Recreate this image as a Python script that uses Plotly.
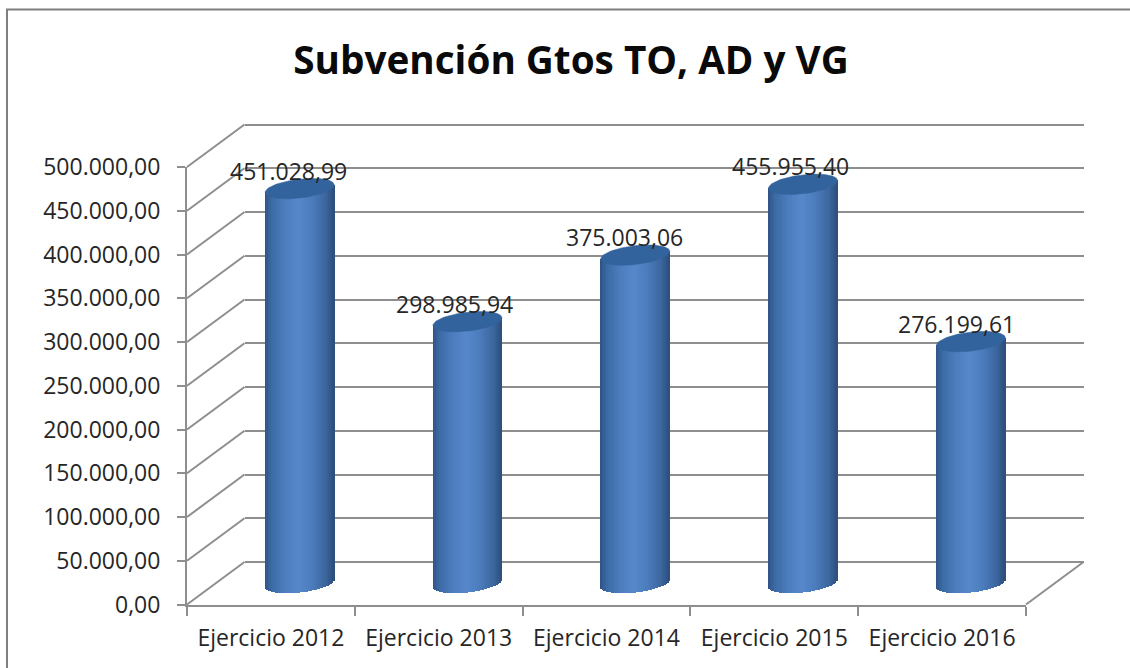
import numpy as np
import plotly.graph_objects as go

# --- data ---
CATEGORIES = ["Ejercicio 2012", "Ejercicio 2013", "Ejercicio 2014", "Ejercicio 2015", "Ejercicio 2016"]
VALUES = [451028.99, 298985.94, 375003.06, 455955.40, 276199.61]
VALUE_LABELS = ["451.028,99", "298.985,94", "375.003,06", "455.955,40", "276.199,61"]
TICK_VALUES = [0, 50000, 100000, 150000, 200000, 250000, 300000, 350000, 400000, 450000, 500000]
TICK_LABELS = ["0,00", "50.000,00", "100.000,00", "150.000,00", "200.000,00", "250.000,00",
               "300.000,00", "350.000,00", "400.000,00", "450.000,00", "500.000,00"]
TITLE = "Subvención Gtos TO, AD y VG"

# --- layout constants (pixels) ---
W, H = 1130, 668
FX0, FX1, FY0, FY1 = 187.0, 1026.0, 604.5, 167.0     # front plane
DX, DY = 57.5, -42.5                                  # depth of the box
GRID = "#8e8e8e"
TEXT = "#262626"
FONT = "Open Sans"
LABEL_DX = [-11.5, -13, -11, -13, -14.5]
RX, RY, TILT = 34.5, 9.5, 0.11
STRIPS = 46
PAD = 20000  # value padding of the hidden axes so that edge grid lines and arcs survive

n = len(CATEGORIES)
x_per_px = n / (FX1 - FX0)
v_per_px = 500000 / (FY0 - FY1)


def px(x):
    return x / W


def py(y):
    return 1 - y / H


def dom_x(shift):
    return [px(FX0 + shift), px(FX1 + shift)]


def dom_y(shift, pad=0.0):
    return [py(FY0 + shift + pad / v_per_px), py(FY1 + shift - pad / v_per_px)]


def lerp_color(t):
    stops = [(0.0, (46, 84, 134)), (0.10, (60, 106, 164)), (0.28, (76, 124, 188)),
             (0.48, (86, 136, 203)), (0.68, (76, 124, 188)), (0.88, (60, 102, 158)), (1.0, (44, 78, 124))]
    for (a, ca), (b, cb) in zip(stops, stops[1:]):
        if t <= b:
            f = (t - a) / (b - a)
            return "rgb(%d,%d,%d)" % tuple(round(p + (q - p) * f) for p, q in zip(ca, cb))
    return "rgb(44,78,124)"


# strips forming the shaded cylinder bodies
ts = (np.arange(STRIPS) + 0.5) / STRIPS
off_px = (ts * 2 - 1) * RX
strip_w = 2 * RX / STRIPS * 1.15 * x_per_px
bar_x, bar_y, bar_base, bar_col = [], [], [], []
for i, v in enumerate(VALUES):
    for t, o in zip(ts, off_px):
        arc = RY * np.sqrt(max(0.0, 1 - (o / RX) ** 2))
        low = (TILT * o - arc) * v_per_px
        top = v + TILT * o * v_per_px
        bar_x.append(i + o * x_per_px)
        bar_base.append(low)
        bar_y.append(top - low)
        bar_col.append(lerp_color(float(t)))

fig = go.Figure()

# back wall: subplot x/y carries the horizontal grid
fig.add_trace(go.Scatter(x=[0], y=[0], xaxis="x", yaxis="y", mode="markers",
                         marker=dict(opacity=0), hoverinfo="skip", showlegend=False))
# front plane: subplot x2/y2 carries the visible axes and labels
fig.add_trace(go.Scatter(x=list(range(n)), y=[0] * n, xaxis="x2", yaxis="y2", mode="markers",
                         marker=dict(opacity=0), hoverinfo="skip", showlegend=False))
# middle plane: subplot x3/y3 carries the cylinders
fig.add_trace(go.Bar(x=bar_x, y=bar_y, base=bar_base, width=strip_w, xaxis="x3", yaxis="y3",
                     marker=dict(color=bar_col, line=dict(width=0)), cliponaxis=False,
                     hoverinfo="skip", showlegend=False))
th = np.linspace(0, 2 * np.pi, 90)
for i, v in enumerate(VALUES):
    ox = RX * np.cos(th)
    oy = RY * np.sin(th) + TILT * ox
    fig.add_trace(go.Scatter(x=i + ox * x_per_px, y=v + oy * v_per_px, xaxis="x3", yaxis="y3",
                             mode="lines", fill="toself", fillcolor="#33639c",
                             line=dict(color="#33639c", width=0.5), cliponaxis=False,
                             hoverinfo="skip", showlegend=False))

# depth lines of the box
shapes = []
for tv in TICK_VALUES:
    y_front = FY0 - tv / v_per_px
    shapes.append(dict(type="line", xref="paper", yref="paper", layer="below",
                       x0=px(FX0), y0=py(y_front), x1=px(FX0 + DX), y1=py(y_front + DY),
                       line=dict(color=GRID, width=2)))
shapes.append(dict(type="line", xref="paper", yref="paper", layer="below",
                   x0=px(FX1), y0=py(FY0), x1=px(FX1 + DX), y1=py(FY0 + DY),
                   line=dict(color=GRID, width=2)))
# picture frame
shapes.append(dict(type="line", xref="paper", yref="paper", layer="below",
                   x0=px(7), y0=py(9.5), x1=px(7), y1=0, line=dict(color="#7f7f7f", width=2)))
shapes.append(dict(type="line", xref="paper", yref="paper", layer="below",
                   x0=px(6), y0=py(9.5), x1=1, y1=py(9.5), line=dict(color="#7f7f7f", width=2)))

annotations = [dict(x=i, y=v, xref="x3", yref="y3", text=lab, showarrow=False,
                    xshift=LABEL_DX[i], yshift=18, xanchor="center", yanchor="middle",
                    font=dict(family=FONT, size=23, color=TEXT))
               for i, (v, lab) in enumerate(zip(VALUES, VALUE_LABELS))]

fig.update_layout(
    template="none",
    width=W, height=H, margin=dict(l=0, r=0, t=0, b=0, pad=0, autoexpand=False),
    paper_bgcolor="white", plot_bgcolor="rgba(0,0,0,0)", showlegend=False,
    barmode="overlay", bargap=0, shapes=shapes, annotations=annotations,
    title=dict(text=TITLE, x=571 / W, xanchor="center", y=py(60), yanchor="middle",
               font=dict(family=FONT, size=38.7, color="#0a0a0a", weight=700)),
    # back wall
    xaxis=dict(domain=dom_x(DX), range=[-0.5, n - 0.5], visible=False, automargin=False),
    yaxis=dict(domain=dom_y(DY, PAD), range=[-PAD, 500000 + PAD], tickmode="array",
               tickvals=TICK_VALUES, showgrid=True, gridcolor=GRID, gridwidth=2,
               showticklabels=False, ticks="", showline=False, zeroline=False, automargin=False),
    # front plane
    xaxis2=dict(domain=dom_x(0), range=[-0.5, n - 0.5], anchor="y2", tickmode="array",
                tickvals=list(range(n)), ticktext=CATEGORIES, ticks="", showgrid=False,
                zeroline=False, showline=True, linecolor=GRID, linewidth=2, automargin=False,
                tickfont=dict(family=FONT, size=23, color=TEXT), ticklabelstandoff=12,
                minor=dict(tickmode="array", tickvals=[i - 0.5 for i in range(n + 1)],
                           ticks="outside", ticklen=9, tickwidth=2, tickcolor=GRID, showgrid=False)),
    yaxis2=dict(domain=dom_y(0), range=[0, 500000], anchor="x2", tickmode="array",
                tickvals=TICK_VALUES, ticktext=TICK_LABELS, ticks="outside", ticklen=8,
                tickwidth=2, tickcolor=GRID, showgrid=False, zeroline=False, showline=True,
                linecolor=GRID, linewidth=2, ticklabelstandoff=12, automargin=False,
                tickfont=dict(family=FONT, size=23, color=TEXT)),
    # cylinders
    xaxis3=dict(domain=dom_x(DX / 2), range=[-0.5, n - 0.5], anchor="y3", visible=False, automargin=False),
    yaxis3=dict(domain=dom_y(DY / 2, PAD), range=[-PAD, 500000 + PAD], anchor="x3", visible=False, automargin=False),
)

fig.write_html("out.html", config=dict(displayModeBar=False),
               post_script="document.body.style.margin='0';document.body.style.overflow='hidden';")
